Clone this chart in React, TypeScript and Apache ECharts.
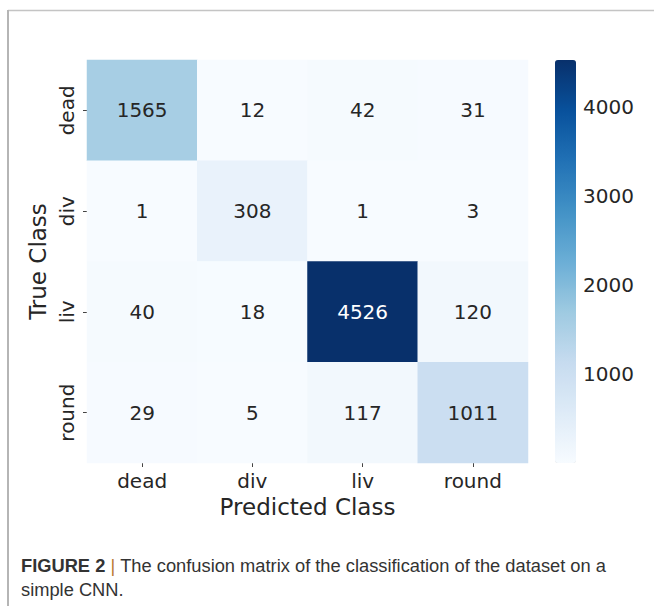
import React, { useEffect, useRef } from 'react';
import * as echarts from 'echarts';

const predictedClasses = ['dead', 'div', 'liv', 'round'];
const trueClasses = ['dead', 'div', 'liv', 'round'];
const matrixRows = [
  [1565, 12, 42, 31],
  [1, 308, 1, 3],
  [40, 18, 4526, 120],
  [29, 5, 117, 1011],
];
const colorbarTicks = [1000, 2000, 3000, 4000];
const bluesPalette = ['#f7fbff', '#deebf7', '#c6dbef', '#9ecae1', '#6baed6', '#4292c6', '#2171b5', '#08519c', '#08306b'];
const xTitle = 'Predicted Class';
const yTitle = 'True Class';
const captionLabel = 'FIGURE 2';
const captionLine1 = 'The confusion matrix of the classification of the dataset on a';
const captionLine2 = 'simple CNN.';

const FONT = "'DejaVu Sans', sans-serif";
const CAP_FONT = "'Liberation Sans', Arial, sans-serif";
const TXT = '#262626';

export default function App() {
  const ref = useRef<HTMLDivElement>(null);
  useEffect(() => {
    if (!ref.current) return;
    const chart = echarts.init(ref.current, null, { renderer: 'svg' });
    const all = matrixRows.flat();
    const vmin = Math.min(...all);
    const vmax = Math.max(...all);
    const data: any[] = [];
    matrixRows.forEach((row, yi) => {
      row.forEach((v, xi) => {
        data.push({
          value: [xi, yi, v],
          label: { color: v > (vmin + vmax) * 0.6 ? '#ffffff' : TXT },
        });
      });
    });
    const gL = 87, gT = 60, gW = 441, gH = 403;
    const capSize = 18.3;
    chart.setOption({
      animation: false,
      backgroundColor: '#ffffff',
      title: {
        left: 21,
        top: 553,
        padding: 0,
        text: `{b|${captionLabel}} {bar||} {n|${captionLine1}}\n{n|${captionLine2}}`,
        textStyle: {
          fontFamily: CAP_FONT,
          fontSize: capSize,
          lineHeight: 24,
          color: '#333333',
          fontWeight: 'normal',
          rich: {
            b: { fontWeight: 'bold', fontSize: capSize, color: '#333333', fontFamily: CAP_FONT, lineHeight: 24 },
            bar: { fontSize: capSize, color: '#b8772f', fontFamily: CAP_FONT, lineHeight: 24 },
            n: { fontSize: capSize, color: '#333333', fontFamily: CAP_FONT, lineHeight: 24 },
          },
        },
      },
      grid: [
        { left: gL, top: gT, width: gW, height: gH, containLabel: false },
        { left: 555, top: gT, width: 21, height: gH, containLabel: false },
      ],
      xAxis: [
        {
          type: 'category',
          gridIndex: 0,
          data: predictedClasses,
          position: 'bottom',
          name: xTitle,
          nameLocation: 'middle',
          nameGap: 32,
          nameTextStyle: { fontFamily: FONT, fontSize: 23, color: TXT },
          axisLine: { show: false },
          axisTick: { show: true, alignWithLabel: true, length: 4, lineStyle: { color: '#444', width: 1 } },
          axisLabel: { fontFamily: FONT, fontSize: 20, color: TXT, margin: 8 },
          splitLine: { show: false },
        },
        { type: 'value', gridIndex: 1, show: false, min: 0, max: 1 },
      ],
      yAxis: [
        {
          type: 'category',
          gridIndex: 0,
          data: trueClasses,
          inverse: true,
          name: yTitle,
          nameLocation: 'middle',
          nameGap: 31,
          nameRotate: 90,
          nameTextStyle: { fontFamily: FONT, fontSize: 23, color: TXT },
          axisLine: { show: false },
          axisTick: { show: true, alignWithLabel: true, length: 4, lineStyle: { color: '#444', width: 1 } },
          axisLabel: { fontFamily: FONT, fontSize: 20, color: TXT, rotate: 90, margin: 10 },
          splitLine: { show: false },
        },
        {
          type: 'value',
          gridIndex: 1,
          position: 'right',
          min: vmin,
          max: vmax,
          axisLine: { show: false },
          splitLine: { show: false },
          axisTick: { show: true, length: 4, customValues: colorbarTicks, lineStyle: { color: '#444', width: 1 } },
          axisLabel: {
            customValues: colorbarTicks,
            formatter: (v: number) => String(v),
            fontFamily: FONT,
            fontSize: 20,
            color: TXT,
            margin: 7,
          },
        },
      ],
      visualMap: {
        type: 'continuous',
        seriesIndex: 0,
        min: vmin,
        max: vmax,
        calculable: false,
        hoverLink: false,
        show: true,
        orient: 'vertical',
        left: 555,
        top: gT,
        padding: 0,
        itemWidth: 21,
        itemHeight: gH,
        text: null,
        inRange: { color: bluesPalette },
      },
      series: [
        {
          type: 'heatmap',
          xAxisIndex: 0,
          yAxisIndex: 0,
          data,
          label: { show: true, fontFamily: FONT, fontSize: 20 },
          itemStyle: { borderWidth: 0 },
          emphasis: { disabled: true },
        },
      ],
      graphic: [
        { type: 'line', shape: { x1: 8, y1: 10.5, x2: 654, y2: 10.5 }, style: { stroke: '#c4c4c4', lineWidth: 1.5 } },
        { type: 'line', shape: { x1: 8, y1: 10, x2: 8, y2: 606 }, style: { stroke: '#b5b5b5', lineWidth: 2 } },
      ],
    });
    return () => chart.dispose();
  }, []);
  return <div ref={ref} style={{ position: 'fixed', left: 0, top: 0, width: 654, height: 606 }} />;
}
